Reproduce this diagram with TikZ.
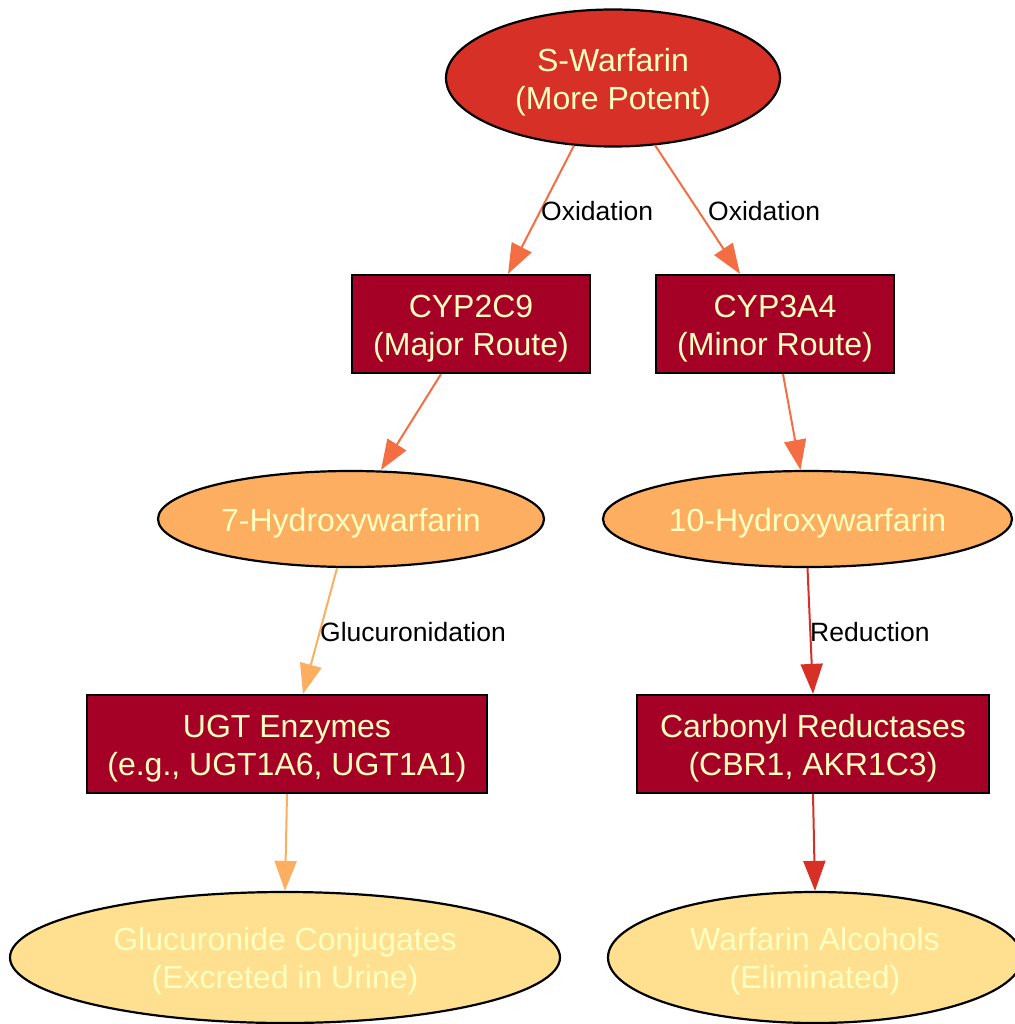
\documentclass[tikz,border=0pt]{standalone}
\usepackage{fontspec}
\setmainfont{Liberation Sans}
\usetikzlibrary{shapes.geometric,arrows.meta}
\definecolor{cRed}{HTML}{D73027}
\definecolor{cDark}{HTML}{A50026}
\definecolor{cOrange}{HTML}{FDAE61}
\definecolor{cPale}{HTML}{FEE090}
\definecolor{cText}{HTML}{FFFFBF}
\definecolor{cOx}{HTML}{F46D43}
\newcommand\myup{\rule{0pt}{31pt}}
\tikzset{
  base/.style={draw=black, line width=2.2pt, text=cText, align=center, inner sep=0pt,
    font=\fontsize{32}{38}\selectfont},
  ell/.style={base, ellipse},
  enzyme/.style={base, rectangle, fill=cDark, minimum width=238pt, minimum height=98pt},
  edge/.style={line width=2pt, -{Triangle[length=30pt,width=22pt]}},
  elabel/.style={anchor=base west, inner sep=0pt, text=black, font=\fontsize{26.5}{30}\selectfont}
}
\begin{document}
\begin{tikzpicture}[x=1pt,y=-1pt]
\useasboundingbox (0,0) rectangle (1014,1024);
\node[ell, fill=cRed, minimum width=334pt, minimum height=137pt] (sw) at (613,78) {\myup S-Warfarin\\(More Potent)};
\node[enzyme] (c2c9) at (471,324) {\myup CYP2C9\\(Major Route)};
\node[enzyme] (c3a4) at (775,324) {\myup CYP3A4\\(Minor Route)};
\node[ell, fill=cOrange, minimum width=386pt, minimum height=96pt] (h7) at (351,519) {\myup 7-Hydroxywarfarin};
\node[ell, fill=cOrange, minimum width=409pt, minimum height=96pt] (h10) at (807.5,519) {\myup 10-Hydroxywarfarin};
\node[enzyme, minimum width=400pt] (ugt) at (287,744) {\myup UGT Enzymes\\(e.g., UGT1A6, UGT1A1)};
\node[enzyme, minimum width=352pt] (cbr) at (813,744) {\myup Carbonyl Reductases\\(CBR1, AKR1C3)};
\node[ell, fill=cPale, minimum width=550pt, minimum height=131pt] (gluc) at (285,957.5) {\myup Glucuronide Conjugates\\(Excreted in Urine)};
\node[ell, fill=cPale, minimum width=414pt, minimum height=131pt] (alc) at (815,957.5) {\myup Warfarin Alcohols\\(Eliminated)};

\draw[edge, cOx] (sw.240) -- ([xshift=37pt]c2c9.north);
\draw[edge, cOx] (sw.302) -- ([xshift=-35pt]c3a4.north);
\draw[edge, cOx] ([xshift=-30pt]c2c9.south) -- ([xshift=30pt]h7.north);
\draw[edge, cOx] ([xshift=8pt]c3a4.south) -- ([xshift=-7pt]h10.north);
\draw[edge, cOrange] ([xshift=-14pt]h7.south) -- ([xshift=16pt]ugt.north);
\draw[edge, cRed] (h10.south) -- (cbr.north);
\draw[edge, cOrange] (ugt.south) -- (gluc.north);
\draw[edge, cRed] (cbr.south) -- (alc.north);

\node[elabel] (l1) at (541,221) {Oxidation};
\node[elabel] (l2) at (708,221) {Oxidation};
\node[elabel] (l3) at (320,641) {Glucuronidation};
\node[elabel] (l4) at (810,641) {Reduction};
\end{tikzpicture}
\end{document}
